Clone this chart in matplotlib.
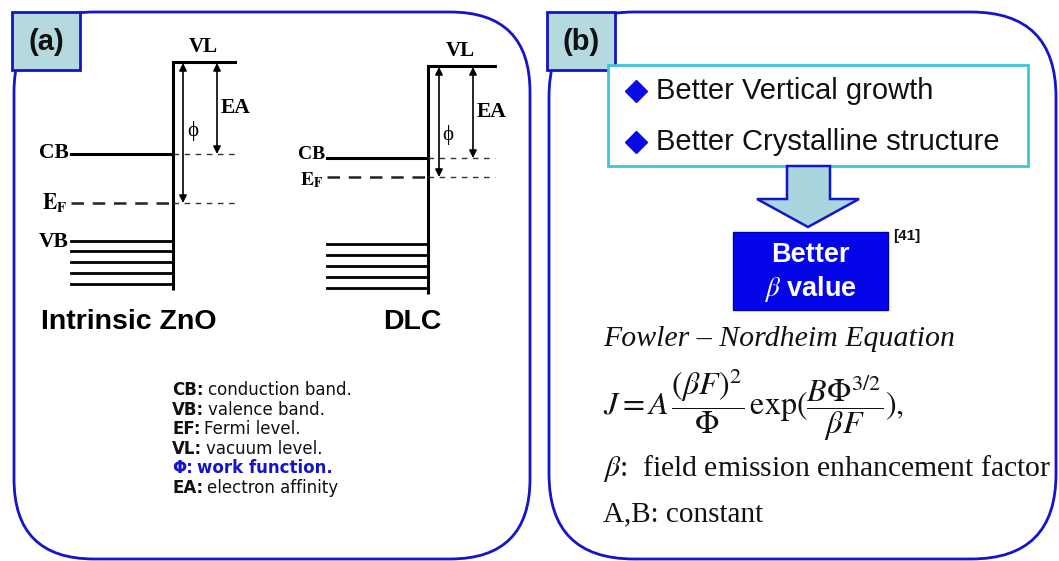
import matplotlib
matplotlib.use("Agg")
import matplotlib.pyplot as plt
from matplotlib.patches import FancyBboxPatch, Rectangle, Polygon

plt.rcParams['mathtext.fontset'] = 'stix'

# ---------------- data (pixel positions of band-diagram levels) ----------------
materials = ["Intrinsic ZnO", "DLC"]
zno_levels = {"VL": 62, "CB": 154, "EF": 203}
zno_vb = [241, 251, 262, 273, 284]
dlc_levels = {"VL": 66, "CB": 158, "EF": 177}
dlc_vb = [244, 255, 266, 277, 288]
legend_keys = ["CB:", "VB:", "EF:", "VL:", "Φ:", "EA:"]
legend_vals = ["conduction band.", "valence band.", "Fermi level.",
               "vacuum level.", "work function.", "electron affinity"]
bullets = ["Better Vertical growth", "Better Crystalline structure"]

BLUE = "#1414c8"
SANS = "Liberation Sans"
SERIF = "Liberation Serif"

fig = plt.figure(figsize=(10.59, 5.61), dpi=100)
ax = fig.add_axes([0, 0, 1, 1])
ax.set_xlim(0, 1059)
ax.set_ylim(561, 0)
ax.axis("off")

# ---------------- panels ----------------
for (x0, x1, r) in [(14, 530, 80), (549, 1056, 85)]:
    ax.add_patch(FancyBboxPatch((x0, 12), x1 - x0, 547,
                                boxstyle=f"round,pad=0,rounding_size={r}",
                                fc="white", ec=BLUE, lw=2.0, zorder=1))
for (x0, lab) in [(12, "(a)"), (547, "(b)")]:
    ax.add_patch(Rectangle((x0, 12), 68, 58, fc="#b4d9df", ec=BLUE, lw=2.0, zorder=3))
    ax.text(x0 + 34, 42, lab, ha="center", va="center", fontsize=21,
            fontweight="bold", family=SANS, color="#111111", zorder=4)


def band(xl, xv, xr, lv, vb, show_vb_label, arr_phi, arr_ea,
         vl_lab_x, ea_lab_x, phi_lab, ea_lab_y, cb_dy, ef_dy, lab_fs):
    lw_main = 2.2
    # vertical interface
    ax.plot([xv, xv], [lv["VL"], vb[-1] + 6], color="black", lw=lw_main, zorder=5,
            solid_capstyle="butt")
    # vacuum level
    ax.plot([xv, xr], [lv["VL"], lv["VL"]], color="black", lw=lw_main, zorder=5)
    ax.text(vl_lab_x, lv["VL"] - 15, "VL", ha="center", va="center", fontsize=15,
            fontweight="bold", family=SERIF)
    # conduction band
    ax.plot([xl, xv], [lv["CB"], lv["CB"]], color="black", lw=lw_main, zorder=5)
    ax.plot([xv, xr], [lv["CB"], lv["CB"]], color="#333333", lw=1.0,
            ls=(0, (4, 4)), zorder=5)
    ax.text(xl - 2, lv["CB"] + cb_dy, "CB", ha="right", va="center", fontsize=lab_fs,
            fontweight="bold", family=SERIF)
    # fermi level
    ax.plot([xl, xv], [lv["EF"], lv["EF"]], color="#222222", lw=1.8,
            ls=(0, (5, 3.5)), zorder=5)
    ax.plot([xv, xr], [lv["EF"], lv["EF"]], color="#333333", lw=1.0,
            ls=(0, (4, 4)), zorder=5)
    ax.text(xl - 4, lv["EF"] + ef_dy, r"$\mathbf{E}_{\mathbf{F}}$", ha="right",
            va="center", fontsize=lab_fs)
    # valence band lines
    for y in vb:
        ax.plot([xl, xv], [y, y], color="black", lw=2.0, zorder=5)
    if show_vb_label:
        ax.text(xl - 2, vb[0] + 1, "VB", ha="right", va="center", fontsize=lab_fs,
                fontweight="bold", family=SERIF)
    # arrows
    ap = dict(arrowstyle="<|-|>", color="black", lw=1.2, mutation_scale=11,
              shrinkA=0, shrinkB=0)
    ax.annotate("", xy=(arr_phi, lv["VL"] + 1), xytext=(arr_phi, lv["EF"]),
                arrowprops=ap, zorder=6)
    ax.annotate("", xy=(arr_ea, lv["VL"] + 1), xytext=(arr_ea, lv["CB"]),
                arrowprops=ap, zorder=6)
    ax.text(phi_lab[0], phi_lab[1], "ϕ", ha="center", va="center", fontsize=15,
            family=[SERIF, "DejaVu Serif"])
    ax.text(ea_lab_x, ea_lab_y, "EA", ha="left", va="center", fontsize=15.5,
            fontweight="bold", family=SERIF)


band(71, 173, 235, zno_levels, zno_vb, True, 183, 217, 203, 221, (193, 131), 108,
     -1, -1, 15.5)
band(327, 428, 495, dlc_levels, dlc_vb, False, 439, 473, 460, 477, (448, 135), 112,
     -4, 3, 14)

# material names
ax.text(129, 322, materials[0], ha="center", va="center", fontsize=20.5,
        fontweight="bold", family=SANS)
ax.text(412, 322, materials[1], ha="center", va="center", fontsize=20.5,
        fontweight="bold", family=SANS)

# legend
fig.canvas.draw()
renderer = fig.canvas.get_renderer()
leg_y = [390, 409.5, 429, 448.5, 468, 487.5]
for k, v, y in zip(legend_keys, legend_vals, leg_y):
    col = BLUE if k.startswith("Φ") else "#111111"
    t = ax.text(172, y, k, ha="left", va="center", fontsize=12, fontweight="bold",
                family="DejaVu Sans", color=col)
    bb = t.get_window_extent(renderer=renderer)
    ax.text(bb.x1 + 4, y, v, ha="left", va="center", fontsize=12,
            fontweight="bold" if k.startswith("Φ") else "normal",
            family="DejaVu Sans", color=col)

# ---------------- panel (b) ----------------
ax.add_patch(Rectangle((608, 65), 420, 101, fc="white", ec="#3cc4dc", lw=2.0, zorder=3))
for txt, y in zip(bullets, [91, 142]):
    ax.plot([636], [y], marker="D", ms=11, color="#0a0ae6", zorder=4)
    ax.text(656, y, txt, ha="left", va="center", fontsize=21, family=SANS,
            color="#111111", zorder=4)

# block arrow
arrow_pts = [(787, 166), (830, 166), (830, 199), (859, 199), (808, 227),
             (757, 199), (787, 199)]
ax.add_patch(Polygon(arrow_pts, closed=True, fc="#a9d5df", ec=BLUE, lw=1.8, zorder=3))

# blue box
ax.add_patch(Rectangle((733, 232), 155, 78, fc="#0505ec", ec="#0000aa", lw=1.0, zorder=3))
ax.text(810, 255, "Better", ha="center", va="center", fontsize=19.5, fontweight="bold",
        family=SANS, color="white", zorder=4)
ax.text(810, 289, r"$\beta$ value", ha="center", va="center", fontsize=19.5,
        fontweight="bold", family=SANS, color="white", zorder=4)
ax.text(893, 236, "[41]", ha="left", va="center", fontsize=11, fontweight="bold",
        family=SANS, color="#111111")

ax.text(603, 339, "Fowler – Nordheim Equation", ha="left", va="center", fontsize=21.5,
        style="italic", family=SERIF, color="#111111")
ax.text(603, 405,
        r"$J=A\,\dfrac{(\beta F)^2}{\Phi}\,\exp(\dfrac{B\Phi^{3/2}}{\beta F}),$",
        ha="left", va="center", fontsize=23, color="#111111")
ax.text(603, 468, r"$\beta$:  field emission enhancement factor", ha="left",
        va="center", fontsize=21.3, family=SERIF, color="#111111")
ax.text(603, 514, "A,B: constant", ha="left", va="center", fontsize=21,
        family=SERIF, color="#111111")

fig.savefig("out.png", dpi=100)
